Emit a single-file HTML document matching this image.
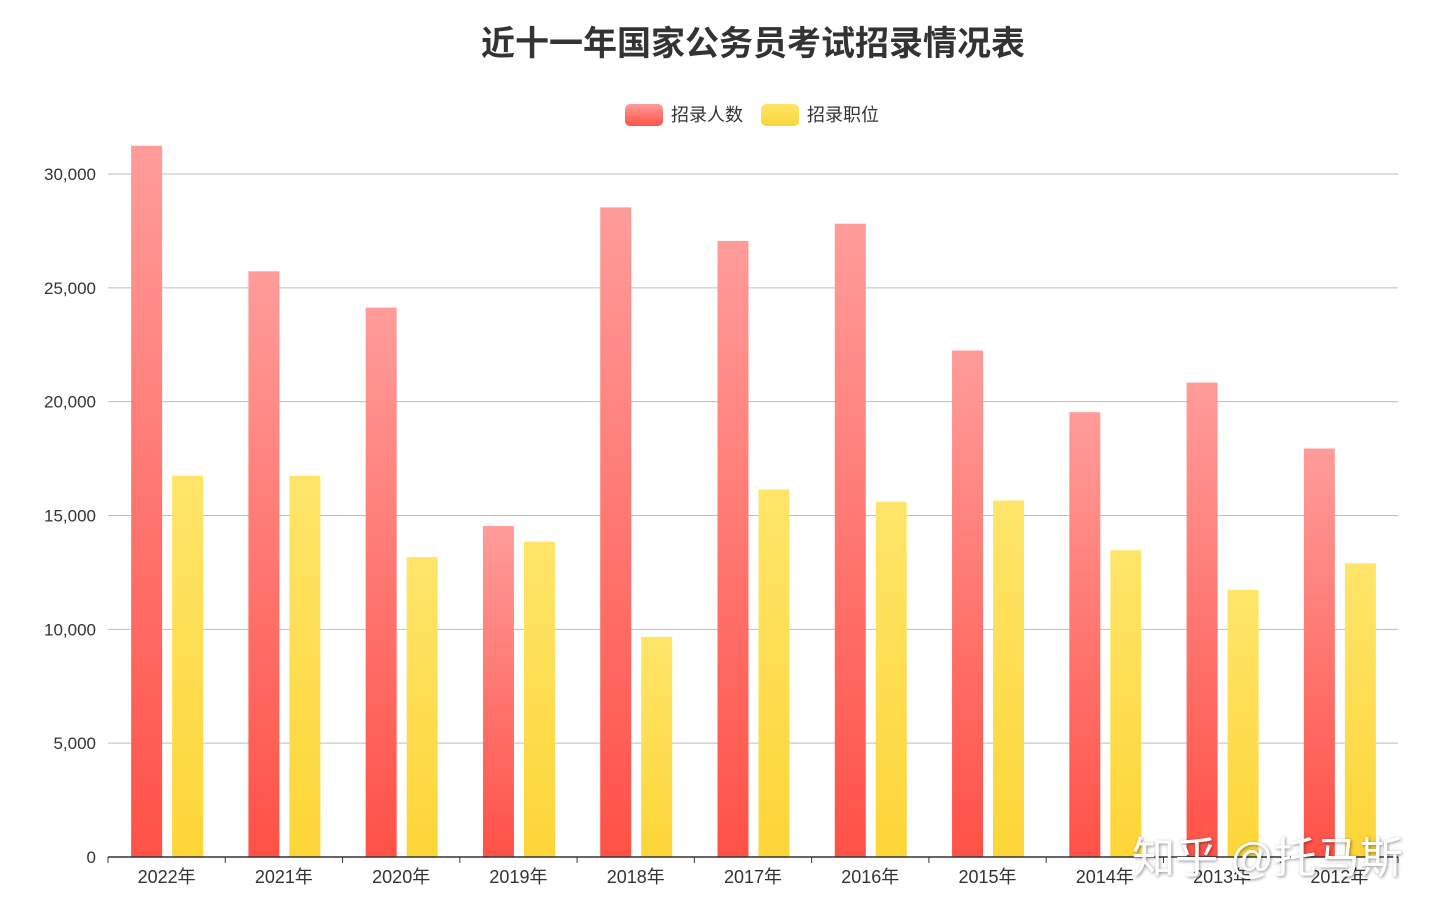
<!DOCTYPE html>
<html><head><meta charset="utf-8">
<style>
html,body{margin:0;padding:0;background:#fff;}
body{width:1440px;height:918px;overflow:hidden;font-family:"Liberation Sans","Noto Sans CJK SC",sans-serif;}
</style></head>
<body>
<svg id="chart" width="1440" height="918" xmlns="http://www.w3.org/2000/svg">
<defs>
<linearGradient id="gRed" x1="0" y1="0" x2="0" y2="1">
<stop offset="0" stop-color="#ff9c9a"/><stop offset="1" stop-color="#ff5146"/></linearGradient>
<linearGradient id="gYel" x1="0" y1="0" x2="0" y2="1">
<stop offset="0" stop-color="#fee56a"/><stop offset="1" stop-color="#fdd537"/></linearGradient>
<filter id="sh"><feDropShadow dx="1" dy="1" stdDeviation="1.5" flood-color="#000" flood-opacity="0.45"/></filter>
</defs>
<text x="753" y="55" text-anchor="middle" font-size="34" font-weight="bold" fill="#333">近十一年国家公务员考试招录情况表</text>
<g>
<rect x="625" y="104" width="38" height="22" rx="5" fill="url(#gRed)"/>
<text x="671" y="121" font-size="18" fill="#333">招录人数</text></g>
<g>
<rect x="761" y="104" width="38" height="22" rx="5" fill="url(#gYel)"/>
<text x="807" y="121" font-size="18" fill="#333">招录职位</text></g>
<g id="grid"></g><g id="bars"></g><g id="axis"></g>
<text x="1132" y="873" font-size="43" fill="#fff" filter="url(#sh)">知乎 @托马斯</text>
</svg>
<script>
const categories=["2022年","2021年","2020年","2019年","2018年","2017年","2016年","2015年","2014年","2013年","2012年"];
const people=[31242,25726,24128,14537,28533,27061,27817,22249,19538,20839,17941];
const positions=[16745,16745,13172,13849,9671,16140,15602,15659,13474,11728,12901];
const yTicks=[0,5000,10000,15000,20000,25000,30000];
const yTickLabels=["0","5,000","10,000","15,000","20,000","25,000","30,000"];
const NS="http://www.w3.org/2000/svg";
const L=108,R=1398,Y0=857,Y30=174;
const y=v=>Y0-(v/30000)*(Y0-Y30);
const band=(R-L)/categories.length;
const x=i=>L+band*i;
function mk(t,a,p){const e=document.createElementNS(NS,t);for(const k in a)e.setAttribute(k,a[k]);p.appendChild(e);return e;}
const grid=document.getElementById('grid'),bars=document.getElementById('bars'),axis=document.getElementById('axis');
yTicks.forEach((v,i)=>{
 if(v>0){const l=mk('line',{x1:L,x2:R,y1:y(v),y2:y(v),stroke:'#bdbdbd','stroke-width':1},grid);
 
 }
 const t=mk('text',{x:96,y:y(v)+6,'text-anchor':'end','font-size':17,fill:'#333'},axis);
 t.textContent=yTickLabels[i];
 
 
});
const al=mk('line',{x1:L,x2:R,y1:Y0,y2:Y0,stroke:'#333','stroke-width':1.5},axis);


categories.forEach((c,i)=>{
 const cx=x(i)+band/2;
 const tk=mk('line',{x1:x(i),x2:x(i),y1:Y0,y2:Y0+6,stroke:'#333'},axis);
 
 
 const r=mk('rect',{x:cx-35.5,y:y(people[i]),width:31,height:Y0-y(people[i]),fill:'url(#gRed)'},bars);
 
 
 const b=mk('rect',{x:cx+5.5,y:y(positions[i]),width:31,height:Y0-y(positions[i]),fill:'url(#gYel)'},bars);
 
 
 const t=mk('text',{x:cx,y:883,'text-anchor':'middle','font-size':18,fill:'#333'},axis);
 t.textContent=c;
 
 
});
mk('line',{x1:R,x2:R,y1:Y0,y2:Y0+6,stroke:'#333'},axis);
</script>
</body></html>
